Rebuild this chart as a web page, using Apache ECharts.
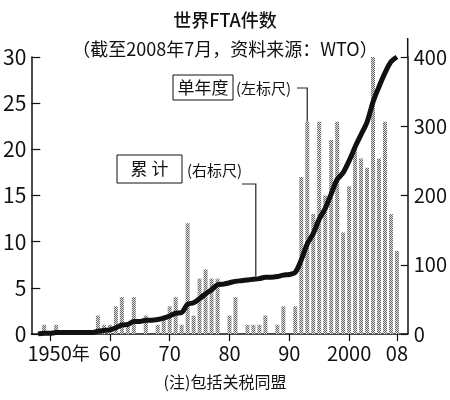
<!DOCTYPE html>
<html lang="zh">
<head>
    <meta charset="UTF-8">
    <title>世界FTA件数</title>
    <script src="https://cdn.jsdelivr.net/npm/echarts@6.0.0/dist/echarts.min.js" type="text/javascript"></script>
    <style>
        html, body {margin: 0; padding: 0; background: #fff;}
        #main {width: 450px; height: 400px;}
    </style>
</head>
<body>
<div id="main"></div>
<script>
    //单年度（左标尺），只列出非零年份
    var barYears = [1949, 1951, 1958, 1959, 1960, 1961, 1962, 1963, 1964, 1966, 1968, 1969, 1970, 1971, 1972,
        1973, 1974, 1975, 1976, 1977, 1978, 1980, 1981, 1983, 1984, 1985, 1986, 1988, 1989, 1991,
        1992, 1993, 1994, 1995, 1996, 1997, 1998, 1999, 2000, 2001, 2002, 2003, 2004, 2005, 2006, 2007, 2008];
    var barValues = [1, 1, 2, 1, 1, 3, 4, 1, 4, 2, 1, 2, 3, 4, 1,
        12, 2, 6, 7, 6, 6, 2, 4, 1, 1, 1, 2, 1, 3, 3,
        17, 23, 13, 23, 15, 21, 23, 11, 16, 20, 19, 18, 30, 19, 23, 13, 9];

    //累计（右标尺）
    var lineYears = [1948, 1949, 1950, 1951, 1952, 1953, 1954, 1955, 1956, 1957,
        1958, 1959, 1960, 1961, 1962, 1963, 1964, 1965, 1966, 1967,
        1968, 1969, 1970, 1971, 1972, 1973, 1974, 1975, 1976, 1977,
        1978, 1979, 1980, 1981, 1982, 1983, 1984, 1985, 1986, 1987,
        1988, 1989, 1990, 1991, 1992, 1993, 1994, 1995, 1996, 1997,
        1998, 1999, 2000, 2001, 2002, 2003, 2004, 2005, 2006, 2007, 2008];
    var lineValues = [0, 1, 1, 2, 2, 2, 2, 2, 2, 2,
        4, 5, 6, 9, 13, 14, 18, 18, 20, 20,
        21, 23, 26, 30, 31, 43, 45, 51, 58, 64,
        71, 72, 74, 76, 77, 78, 79, 80, 82, 82,
        83, 85, 86, 89, 107, 130, 145, 166, 181, 202,
        223, 233, 250, 270, 288, 306, 335, 357, 377, 393, 400];

    //刻度
    var xTicks = [1950, 1960, 1970, 1980, 1990, 2000, 2008];
    var xTickLabels = ['1950', '60', '70', '80', '90', '2000', '08'];

    var numFont = "'Liberation Sans Narrow', 'Noto Sans CJK SC', sans-serif";
    var cjkFont = "'Noto Sans CJK SC', sans-serif";

    //网点纹理
    var tile = document.createElement('canvas');
    tile.width = 2;
    tile.height = 2;
    var tc = tile.getContext('2d');
    tc.fillStyle = '#e2e2e2';
    tc.fillRect(0, 0, 2, 2);
    tc.fillStyle = '#666';
    tc.fillRect(0, 0, 1, 1);
    tc.fillRect(1, 1, 1, 1);

    var barData = [];
    for (var i = 0; i < barYears.length; i++) {
        barData.push([barYears[i], barValues[i]]);
    }
    var lineData = [];
    for (var j = 0; j < lineYears.length; j++) {
        lineData.push([lineYears[j], lineValues[j]]);
    }

    var option = {
        animation: false,
        backgroundColor: '#fff',
        title: [
            {
                text: '世界FTA件数',
                left: 'center',
                top: 6,
                textStyle: {fontSize: 18, fontWeight: 500, fontFamily: cjkFont, color: '#111'}
            },
            {
                text: '（截至2008年7月，资料来源：WTO）',
                left: 'center',
                top: 35,
                textStyle: {fontSize: 18, fontWeight: 'normal', fontFamily: cjkFont, color: '#111'}
            }
        ],
        grid: {left: 30, right: 39, top: 57, bottom: 66},
        xAxis: {
            type: 'value',
            min: 1946.86,
            max: 2009.8,
            splitLine: {show: false},
            axisLine: {lineStyle: {color: '#111', width: 1.5}},
            axisTick: {show: true, inside: false, length: 7, customValues: xTicks, lineStyle: {color: '#111', width: 1.2}},
            axisLabel: {
                customValues: xTicks,
                margin: 9,
                color: '#111',
                fontSize: 20,
                fontFamily: numFont,
                formatter: function (v) {
                    var k = xTicks.indexOf(v);
                    if (v === 1950) {
                        return '{p| }{y|' + xTickLabels[k] + '}{n|年}';
                    }
                    return k >= 0 ? xTickLabels[k] : '';
                },
                rich: {
                    p: {width: 17, fontSize: 20, fontFamily: numFont},
                    y: {fontSize: 20, fontFamily: numFont, color: '#111'},
                    n: {fontSize: 18, fontFamily: cjkFont, color: '#111'}
                }
            }
        },
        yAxis: [
            {
                type: 'value',
                position: 'left',
                min: 0,
                max: 30,
                interval: 5,
                splitLine: {show: false},
                axisLine: {show: true, lineStyle: {color: '#111', width: 1.5}},
                axisTick: {show: true, inside: true, length: 9, lineStyle: {color: '#111', width: 1.2}},
                axisLabel: {margin: 5, color: '#111', fontSize: 21, fontFamily: numFont}
            },
            {
                type: 'value',
                position: 'right',
                min: 0,
                max: 400,
                interval: 100,
                splitLine: {show: false},
                axisLine: {show: true, lineStyle: {color: '#111', width: 1.5}},
                axisTick: {show: true, inside: true, length: 7, lineStyle: {color: '#111', width: 1.2}},
                axisLabel: {margin: 6, color: '#111', fontSize: 20, fontFamily: numFont}
            }
        ],
        series: [
            {
                name: '单年度',
                type: 'bar',
                yAxisIndex: 0,
                barWidth: 4,
                itemStyle: {color: {image: tile, repeat: 'repeat'}},
                data: barData
            },
            {
                name: '累计',
                type: 'line',
                yAxisIndex: 1,
                smooth: 0.3,
                showSymbol: false,
                lineStyle: {color: '#111', width: 5},
                data: lineData,
                z: 3
            }
        ]
    };

    var chart = echarts.init(document.getElementById('main'));
    chart.setOption(option);

    //注释框和引线
    var p1 = chart.convertToPixel({xAxisIndex: 0, yAxisIndex: 0}, [1993, 23]);
    var p2 = chart.convertToPixel({xAxisIndex: 0, yAxisIndex: 1}, [1984.4, 79]);
    var axTop = chart.convertToPixel({xAxisIndex: 0, yAxisIndex: 1}, [2009.8, 400]);

    chart.setOption({
        graphic: [
            {type: 'line', shape: {x1: axTop[0], y1: 38, x2: axTop[0], y2: axTop[1]}, style: {stroke: '#111', lineWidth: 1.5}},
            {type: 'rect', shape: {x: 173, y: 75, width: 60, height: 25}, style: {fill: '#fff', stroke: '#111', lineWidth: 1}},
            {type: 'text', x: 203, y: 88, style: {text: '单年度', fontSize: 17, fontFamily: cjkFont, fill: '#111', align: 'center', verticalAlign: 'middle'}},
            {type: 'text', x: 236, y: 88, style: {text: '(左标尺)', fontSize: 15, fontFamily: cjkFont, fill: '#111', align: 'left', verticalAlign: 'middle'}},
            {type: 'polyline', shape: {points: [[297, 88], [p1[0], 88], [p1[0], p1[1]]]}, style: {stroke: '#222', lineWidth: 1.2, fill: null}},
            {type: 'rect', shape: {x: 117, y: 155, width: 65, height: 28}, style: {fill: '#fff', stroke: '#111', lineWidth: 1}},
            {type: 'text', x: 149.5, y: 169, style: {text: '累 计', fontSize: 17, fontFamily: cjkFont, fill: '#111', align: 'center', verticalAlign: 'middle'}},
            {type: 'text', x: 187, y: 170, style: {text: '(右标尺)', fontSize: 15, fontFamily: cjkFont, fill: '#111', align: 'left', verticalAlign: 'middle'}},
            {type: 'polyline', shape: {points: [[242, 184], [p2[0], 184], [p2[0], p2[1] - 3]]}, style: {stroke: '#222', lineWidth: 1.2, fill: null}},
            {type: 'text', x: 225, y: 382, style: {text: '(注)包括关税同盟', fontSize: 16, fontFamily: cjkFont, fill: '#111', align: 'center', verticalAlign: 'middle'}}
        ]
    });
</script>
</body>
</html>
